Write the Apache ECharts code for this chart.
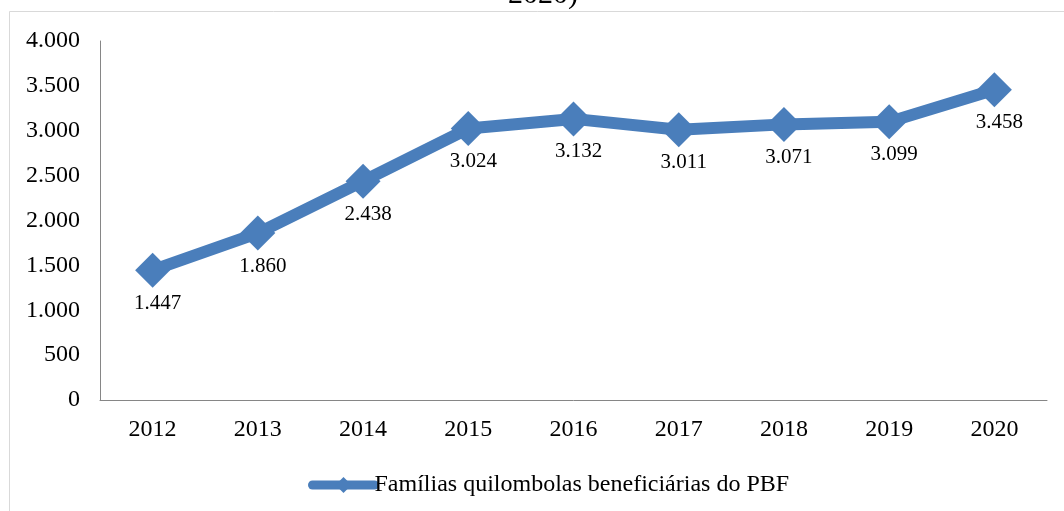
<!DOCTYPE html>
<html>
<head>
<meta charset="utf-8">
<script src="https://cdn.jsdelivr.net/npm/echarts@6/dist/echarts.min.js"></script>
<style>
html,body{margin:0;padding:0;background:#fff;}
#chart{width:1064px;height:511px;}
</style>
</head>
<body>
<div id="chart"></div>
<script>
const years = ['2012','2013','2014','2015','2016','2017','2018','2019','2020'];
const familias = [1447, 1860, 2438, 3024, 3132, 3011, 3071, 3099, 3458];
const seriesName = 'Famílias quilombolas beneficiárias do PBF';
const titleFragment = '2020)';

const fontFamily = '"Liberation Serif", "Times New Roman", serif';
const blue = '#4A7EBB';
const fmt = v => v.toLocaleString('de-DE');

const chart = echarts.init(document.getElementById('chart'), null, {renderer: 'canvas'});
chart.setOption({
  backgroundColor: '#fff',
  animation: false,
  textStyle: {fontFamily: fontFamily},
  graphic: [
    {type: 'rect', silent: true, shape: {x: 9.5, y: 11.5, width: 1200, height: 700},
     style: {fill: 'none', stroke: '#d9d9d9', lineWidth: 1}},
    {type: 'text', silent: true, x: 543, y: 10,
     style: {text: titleFragment, font: '30px ' + fontFamily, fill: '#000',
             align: 'center', verticalAlign: 'bottom'}}
  ],
  grid: {left: 100, right: 17, top: 41, bottom: 111, containLabel: false},
  legend: {
    data: [seriesName],
    bottom: 14,
    left: 308,
    padding: 0,
    itemWidth: 62,
    itemHeight: 20,
    itemGap: 0,
    lineStyle: {width: 9, cap: 'round'},
    textStyle: {fontFamily: fontFamily, fontSize: 24, color: '#000', padding: [0,0,0,-5]}
  },
  xAxis: {
    type: 'category',
    data: years,
    boundaryGap: true,
    axisLine: {lineStyle: {color: '#868686', width: 1}},
    axisTick: {show: false},
    axisLabel: {fontFamily: fontFamily, fontSize: 24, color: '#000', margin: 18}
  },
  yAxis: {
    type: 'value',
    min: 0, max: 4000, interval: 500,
    axisLine: {show: true, lineStyle: {color: '#868686', width: 1}},
    axisTick: {show: false},
    splitLine: {show: false},
    axisLabel: {fontFamily: fontFamily, fontSize: 24, color: '#000', margin: 20,
                formatter: v => fmt(v)}
  },
  series: [{
    name: seriesName,
    type: 'line',
    data: familias,
    symbol: 'diamond',
    symbolSize: 35,
    lineStyle: {color: blue, width: 12},
    itemStyle: {color: blue},
    label: {show: true, position: 'bottom', distance: 5, offset: [5, 0], fontFamily: fontFamily,
            fontSize: 21, color: '#000', formatter: p => fmt(p.value)}
  }]
});
</script>
</body>
</html>
